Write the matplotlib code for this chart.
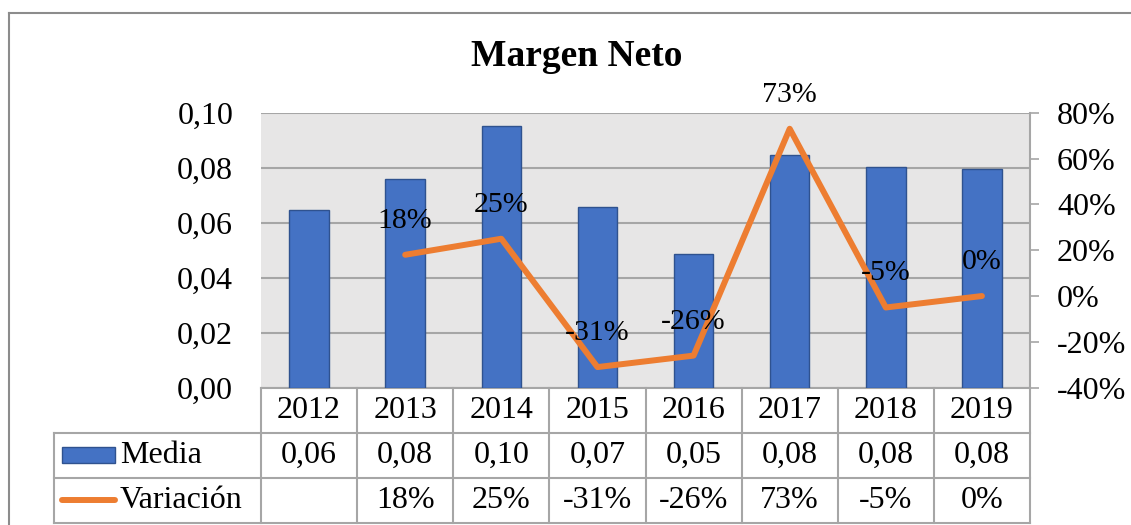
import matplotlib

matplotlib.use("Agg")
import matplotlib.pyplot as plt
import matplotlib.transforms as mtransforms
from matplotlib.lines import Line2D
from matplotlib.patches import Rectangle
import numpy as np

plt.rcParams["font.family"] = ["Liberation Serif", "DejaVu Serif"]

years = ["2012", "2013", "2014", "2015", "2016", "2017", "2018", "2019"]
media = [0.0645, 0.0760, 0.0952, 0.0657, 0.0485, 0.0846, 0.0802, 0.0796]
variacion = [np.nan, 0.18, 0.25, -0.31, -0.26, 0.73, -0.05, 0.00]
left_ticks = [0.00, 0.02, 0.04, 0.06, 0.08, 0.10]
right_ticks = [-0.4, -0.2, 0.0, 0.2, 0.4, 0.6, 0.8]

BLUE = "#4472C4"
BLUE_EDGE = "#2F528F"
ORANGE = "#ED7D31"
GRID = "#A6A6A6"
FS = 23

W, H = 1131, 525
fig = plt.figure(figsize=(W / 100, H / 100), dpi=100)

# plot area in pixel terms
x0, x1, ytop, ybot = 261, 1030, 112.7, 387.7
ax = fig.add_axes([x0 / W, 1 - ybot / H, (x1 - x0) / W, (ybot - ytop) / H])
ax.set_facecolor("#E7E6E6")

x = np.arange(len(years))
ax.bar(x, media, width=0.41, color=BLUE, edgecolor=BLUE_EDGE, linewidth=1.0, zorder=3)
ax.set_xlim(-0.5, len(years) - 0.5)
ax.set_ylim(0, 0.10)
ax.set_yticks(left_ticks)
ax.set_yticklabels([f"{v:.2f}".replace(".", ",") for v in left_ticks], fontsize=FS)
ax.tick_params(axis="y", length=0, pad=20)
ax.set_xticks([])
ax.yaxis.grid(True, color=GRID, linewidth=1.5, zorder=1)
ax.set_axisbelow(True)
for side in ("left", "right", "top"):
    ax.spines[side].set_visible(False)
ax.spines["bottom"].set_color(GRID)
ax.spines["bottom"].set_linewidth(1.5)

ax2 = ax.twinx()
ax2.plot(x, variacion, color=ORANGE, linewidth=4.3, solid_capstyle="round",
         solid_joinstyle="round", zorder=4)
ax2.set_ylim(-0.4, 0.8)
ax2.set_yticks(right_ticks)
ax2.set_yticklabels([f"{v:.0%}" for v in right_ticks], fontsize=FS)
ax2.tick_params(axis="y", length=6.5, width=1.2, color=GRID, pad=13)
for side in ("left", "top", "bottom"):
    ax2.spines[side].set_visible(False)
ax2.spines["right"].set_color(GRID)
ax2.spines["right"].set_linewidth(1.5)

for xi, v in zip(x, variacion):
    if np.isnan(v):
        continue
    ax2.annotate(f"{v:.0%}", (xi, v), xytext=(0, 24.5), textcoords="offset points",
                 ha="center", va="center", fontsize=21.5, clip_on=False, zorder=5)

# data table under the plot
row_h = 45 / (ybot - ytop)
left_col = (54 - x0) / (x1 - x0)
blend = mtransforms.blended_transform_factory(ax.transData, ax.transAxes)
line_kw = dict(color=GRID, linewidth=1.5, clip_on=False)

for k in range(1, 4):
    ax.add_line(Line2D([left_col, 1], [-k * row_h] * 2, transform=ax.transAxes, **line_kw))
ax.add_line(Line2D([left_col, left_col], [-row_h, -3 * row_h], transform=ax.transAxes, **line_kw))
for b in np.arange(len(years) + 1) - 0.5:
    ax.add_line(Line2D([b, b], [0, -3 * row_h], transform=blend, **line_kw))

var_labels = ["" if np.isnan(v) else f"{v:.0%}" for v in variacion]
for xi, yr, m, vl in zip(x, years, media, var_labels):
    ax.text(xi, -0.5 * row_h, yr, transform=blend, ha="center", va="center", fontsize=FS)
    ax.text(xi, -1.5 * row_h, f"{m:.2f}".replace(".", ","), transform=blend,
            ha="center", va="center", fontsize=FS)
    ax.text(xi, -2.5 * row_h, vl, transform=blend, ha="center", va="center", fontsize=FS)

# legend keys inside the table
key_x = (62 - x0) / (x1 - x0)
key_w = (115 - 62) / (x1 - x0)
key_h = 16 / (ybot - ytop)
ax.add_patch(Rectangle((key_x, -1.5 * row_h - key_h / 2), key_w, key_h, transform=ax.transAxes,
                       facecolor=BLUE, edgecolor=BLUE_EDGE, linewidth=1.0, clip_on=False))
ax.add_line(Line2D([key_x, key_x + key_w], [-2.5 * row_h] * 2, transform=ax.transAxes,
                   color=ORANGE, linewidth=4.3, solid_capstyle="round", clip_on=False))
text_x = (120 - x0) / (x1 - x0)
ax.text(text_x, -1.5 * row_h, "Media", transform=ax.transAxes, ha="left", va="center", fontsize=FS)
ax.text(text_x, -2.5 * row_h, "Variación", transform=ax.transAxes, ha="left", va="center", fontsize=FS)

ax.set_xlim(-0.5, len(years) - 0.5)
ax.set_ylim(0, 0.10)

# chart title and outer border
fig.text(577 / W, 1 - 57 / H, "Margen Neto", ha="center", va="center",
         fontsize=27, fontweight="bold")
fig.add_artist(Line2D([9 / W, 1], [1 - 13 / H] * 2, transform=fig.transFigure,
                      color="#8C8C8C", linewidth=1.5))
fig.add_artist(Line2D([9 / W, 9 / W], [0, 1 - 13 / H], transform=fig.transFigure,
                      color="#8C8C8C", linewidth=1.5))

fig.savefig("out.png", dpi=100)
